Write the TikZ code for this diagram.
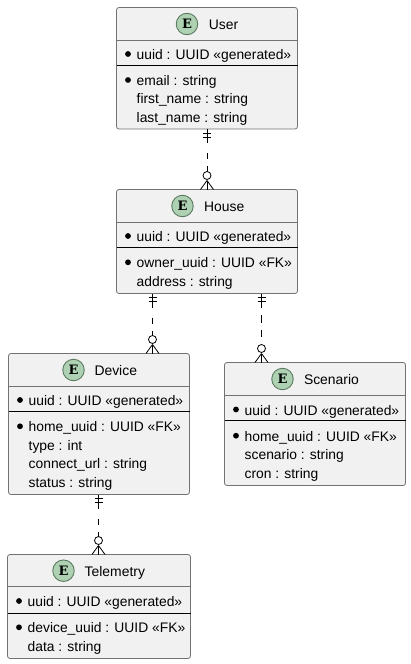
\documentclass[tikz,border=0pt]{standalone}
\usepackage{fontspec}
\setmainfont{Liberation Sans}
\newfontfamily\emono{DejaVu Serif}
\definecolor{boxfill}{HTML}{F1F1F1}
\definecolor{boxline}{HTML}{727272}
\definecolor{spotfill}{HTML}{ADD1B2}
\definecolor{spotline}{HTML}{5C7A60}
\tikzset{
  x=1pt,y=-1pt,
  entity/.style={draw=boxline,fill=boxfill,rounded corners=2.5pt,line width=.8pt,anchor=north west,inner sep=0pt,outer sep=0pt},
  spot/.style={circle,draw=spotline,fill=spotfill,line width=.9pt,minimum size=21.5pt,inner sep=0pt,font=\emono\bfseries\fontsize{13}{13}\selectfont},
  title/.style={anchor=base west,inner sep=0pt,font=\fontsize{13.9}{16}\selectfont},
  field/.style={anchor=base west,inner sep=0pt,font=\fontsize{13.85}{16}\selectfont},
  keydot/.style={circle,fill=black,minimum size=5.8pt,inner sep=0pt},
  sepa/.style={draw=boxline,line width=.8pt},
  sepb/.style={draw=black,line width=.9pt},
  rel/.style={draw=black,line width=.8pt},
  crow/.style={draw=black,line width=.8pt},
  dashshort/.style={dash pattern=on 14pt off 10pt on 6pt off 7pt on 6pt off 30pt},
  dashlong/.style={dash pattern=on 14.5pt off 7pt on 8pt off 6.5pt on 7.5pt off 100pt},
}
% #1 name, #2 x, #3 y, #4 width, #5 height, #6 sep1 offset, #7 sep2 offset
\newcommand{\entbox}[7]{%
  \node[entity,minimum width=#4pt,minimum height=#5pt] (#1) at (#2,#3) {};
  \draw[sepa] (#2,#3+#6) -- (#2+#4,#3+#6);
  \draw[sepb] (#2,#3+#7) -- (#2+#4,#3+#7);
}
% ends: #1 from, #2 to, both coordinates
\newcommand{\relation}[3]{%
  \draw[rel,#3] (#1) -- (#2);
  \draw[crow] ([xshift=-4pt,yshift=-4pt]#1) -- ([xshift=4pt,yshift=-4pt]#1);
  \draw[crow] ([xshift=-4pt,yshift=-8pt]#1) -- ([xshift=4pt,yshift=-8pt]#1);
  \draw[crow,fill=white] ([yshift=14pt]#2) circle[radius=4pt];
  \draw[crow] ([yshift=9pt]#2) -- (#2);
  \draw[crow] ([yshift=9pt]#2) -- ([xshift=-6.5pt]#2);
  \draw[crow] ([yshift=9pt]#2) -- ([xshift=6.5pt]#2);
}
\begin{document}
\begin{tikzpicture}
\useasboundingbox (0,0) rectangle (411,664);
% User
\entbox{user}{116.5}{7.5}{181}{121.5}{32.5}{58}
\node[spot] (us) at (187,24) {E};
\node[title] (ut) at (208.7,29.5) {User};
\node[keydot] (u1d) at (128,54) {};
\node[field] (u1) at (136.5,59.3) {uuid : UUID «generated»};
\node[keydot] (u2d) at (128,80) {};
\node[field] (u2) at (136.5,85.2) {email : string};
\node[field] (u3) at (136.5,103.7) {first\_name : string};
\node[field] (u4) at (136.5,122.2) {last\_name : string};
% House
\entbox{house}{116.5}{189.5}{181}{104}{32.5}{58}
\node[spot] (hs) at (182.5,206) {E};
\node[title] (ht) at (204,211.5) {House};
\node[keydot] (h1d) at (128,236) {};
\node[field] (h1) at (136.5,241.3) {uuid : UUID «generated»};
\node[keydot] (h2d) at (128,262.3) {};
\node[field] (h2) at (136.5,267.8) {owner\_uuid : UUID «FK»};
\node[field] (h3) at (136.5,286.3) {address : string};
% Device
\entbox{device}{8.5}{353.5}{181}{141}{32.5}{58}
\node[spot] (ds) at (73.5,370) {E};
\node[title] (dt) at (94.3,375.5) {Device};
\node[keydot] (d1d) at (20,400) {};
\node[field] (d1) at (28.5,405.3) {uuid : UUID «generated»};
\node[keydot] (d2d) at (20,426.3) {};
\node[field] (d2) at (28.5,431.8) {home\_uuid : UUID «FK»};
\node[field] (d3) at (28.5,450.3) {type : int};
\node[field] (d4) at (28.5,468.8) {connect\_url : string};
\node[field] (d5) at (28.5,487.3) {status : string};
% Scenario
\entbox{scenario}{224.5}{362.5}{181}{123}{32.5}{58}
\node[spot] (ss) at (282.5,379) {E};
\node[title] (st) at (303.8,384.5) {Scenario};
\node[keydot] (s1d) at (236,409.5) {};
\node[field] (s1) at (244.5,415) {uuid : UUID «generated»};
\node[keydot] (s2d) at (236,435.7) {};
\node[field] (s2) at (244.5,441) {home\_uuid : UUID «FK»};
\node[field] (s3) at (244.5,459.5) {scenario : string};
\node[field] (s4) at (244.5,478) {cron : string};
% Telemetry
\entbox{telemetry}{7.5}{554.5}{183}{104}{32}{58.5}
\node[spot] (ts) at (63.5,570.7) {E};
\node[title] (tt) at (84.5,576.5) {Telemetry};
\node[keydot] (t1d) at (19,601) {};
\node[field] (t1) at (27.5,606.2) {uuid : UUID «generated»};
\node[keydot] (t2d) at (19,627.3) {};
\node[field] (t2) at (27.5,632.8) {device\_uuid : UUID «FK»};
\node[field] (t3) at (27.5,651.5) {data : string};
% connectors
\coordinate (a1) at (user.south);
\coordinate (a2) at (house.north);
\coordinate (b1) at (152.5,293.5);
\coordinate (b2) at (152.5,353.5);
\coordinate (c1) at (261.5,293.5);
\coordinate (c2) at (261.5,362.5);
\coordinate (e1) at (98.5,494.5);
\coordinate (e2) at (98.5,554.5);
\relation{a1}{a2}{dashshort}
\relation{b1}{b2}{dashshort}
\relation{c1}{c2}{dashlong}
\relation{e1}{e2}{dashshort}
\end{tikzpicture}
\end{document}
